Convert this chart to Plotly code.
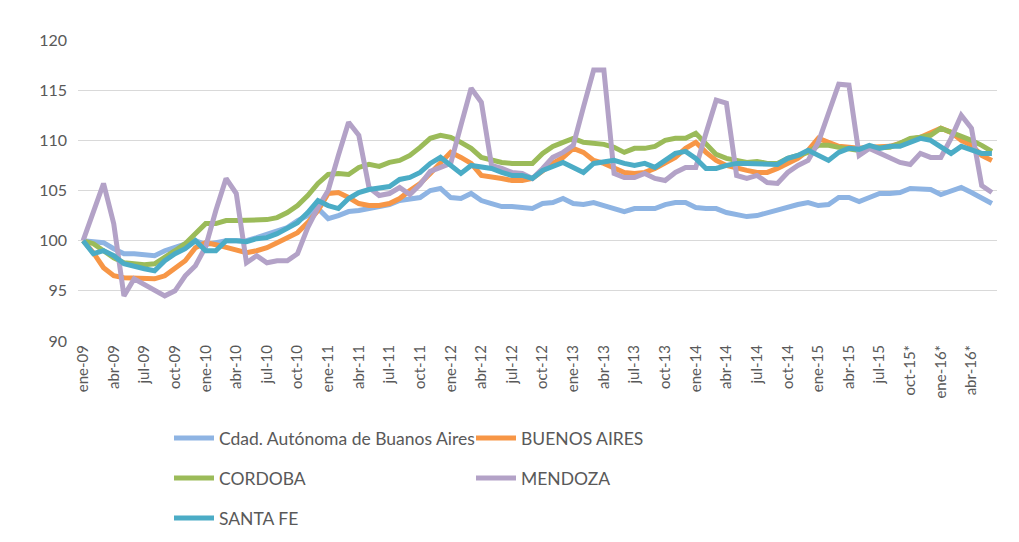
import plotly.graph_objects as go

months = ["ene", "feb", "mar", "abr", "may", "jun", "jul", "ago", "sep", "oct", "nov", "dic"]
years = ["09", "10", "11", "12", "13", "14", "15", "16"]
n_points = 90
starred_from = 81  # oct-15 onwards carry an asterisk

caba = [100.0, 99.9, 99.8, 99.2, 98.7, 98.7, 98.6, 98.5, 99.0, 99.3, 99.7, 100.0,
        99.6, 99.8, 100.0, 100.0, 100.0, 100.3, 100.6, 100.9, 101.3, 102.0, 102.5, 103.2,
        102.2, 102.5, 102.9, 103.0, 103.2, 103.3, 103.6, 104.0, 104.2, 104.3, 105.0, 105.2,
        104.3, 104.2, 104.7, 104.0, 103.7, 103.4, 103.4, 103.3, 103.2, 103.7, 103.8, 104.2,
        103.7, 103.6, 103.8, 103.5, 103.2, 102.9, 103.2, 103.2, 103.2, 103.6, 103.8, 103.8,
        103.3, 103.2, 103.2, 102.8, 102.6, 102.4, 102.5, 102.8, 103.1, 103.3, 103.6, 103.8,
        103.5, 103.6, 104.3, 104.3, 103.9, 104.3, 104.7, 104.7, 104.8, 105.2, 105.2, 105.1,
        104.6, 104.9, 105.3, 104.8, 104.2, 103.7]

buenos_aires = [100.0, 98.8, 97.3, 96.5, 96.3, 96.3, 96.2, 96.2, 96.5, 97.3, 98.0, 99.3,
                99.8, 99.6, 99.3, 99.0, 98.8, 99.0, 99.3, 99.8, 100.3, 100.8, 101.8, 103.0,
                104.7, 104.8, 104.3, 103.7, 103.5, 103.5, 103.7, 104.2, 105.0, 105.7, 106.7, 107.7,
                108.8, 108.3, 107.7, 106.5, 106.4, 106.2, 106.0, 106.0, 106.2, 107.0, 107.7, 108.3,
                109.2, 108.8, 108.0, 107.7, 107.3, 106.8, 106.7, 106.8, 107.2, 107.7, 108.3, 109.2,
                109.8, 108.8, 108.0, 107.5, 107.2, 107.0, 106.8, 106.8, 107.2, 107.7, 108.2, 109.0,
                110.2, 109.8, 109.4, 109.3, 109.2, 109.3, 109.4, 109.4, 109.7, 110.1, 110.3, 110.7,
                111.2, 110.8, 110.0, 109.5, 108.5, 108.0]

cordoba = [100.0, 99.7, 99.0, 98.3, 97.8, 97.7, 97.6, 97.7, 98.3, 99.0, 99.7, 100.7,
           101.7, 101.7, 102.0, 102.0, 102.0, 102.0, 102.1, 102.3, 102.8, 103.5, 104.5, 105.7,
           106.6, 106.7, 106.6, 107.3, 107.6, 107.4, 107.8, 108.0, 108.5, 109.3, 110.2, 110.5,
           110.3, 109.8, 109.2, 108.3, 108.0, 107.8, 107.7, 107.7, 107.7, 108.7, 109.4, 109.8,
           110.2, 109.8, 109.7, 109.6, 109.3, 108.8, 109.2, 109.2, 109.4, 110.0, 110.2, 110.2,
           110.7, 109.6, 108.6, 108.2, 108.0, 107.8, 107.9, 107.7, 107.7, 108.2, 108.5, 108.8,
           109.5, 109.5, 109.3, 109.2, 109.0, 109.2, 109.2, 109.3, 109.7, 110.2, 110.3, 110.5,
           111.2, 110.8, 110.5, 110.0, 109.5, 108.9]

mendoza = [100.0, 102.9, 105.7, 101.7, 94.5, 96.2, 95.6, 95.0, 94.5, 95.0, 96.5, 97.5,
           99.4, 103.0, 106.2, 104.7, 97.8, 98.5, 97.8, 98.0, 98.0, 98.7, 101.3, 103.3,
           105.0, 108.5, 111.8, 110.5, 105.3, 104.5, 104.7, 105.3, 104.6, 105.6, 106.9, 107.3,
           107.7, 111.5, 115.2, 113.8, 107.5, 107.2, 106.8, 106.7, 106.2, 107.2, 108.3, 108.8,
           109.5, 113.3, 117.0, 117.0, 106.7, 106.3, 106.3, 106.7, 106.2, 106.0, 106.8, 107.3,
           107.3, 110.7, 114.0, 113.7, 106.5, 106.2, 106.5, 105.8, 105.7, 106.8, 107.5, 108.0,
           109.8, 112.7, 115.6, 115.5, 108.5, 109.2, 108.7, 108.2, 107.8, 107.6, 108.7, 108.3,
           108.3, 110.2, 112.5, 111.2, 105.5, 104.8]

santa_fe = [100.0, 98.7, 99.0, 98.5, 97.7, 97.4, 97.2, 97.0, 98.0, 98.7, 99.2, 100.0,
            99.0, 99.0, 100.0, 100.0, 99.9, 100.2, 100.3, 100.7, 101.2, 101.8, 102.8, 104.0,
            103.5, 103.2, 104.2, 104.8, 105.1, 105.3, 105.4, 106.1, 106.3, 106.8, 107.7, 108.3,
            107.5, 106.7, 107.5, 107.3, 107.2, 106.8, 106.5, 106.5, 106.2, 107.0, 107.4, 107.8,
            107.3, 106.8, 107.7, 107.8, 108.0, 107.7, 107.5, 107.7, 107.3, 108.0, 108.7, 108.9,
            108.2, 107.2, 107.2, 107.5, 107.7, 107.7, 107.7, 107.6, 107.6, 108.2, 108.5, 109.0,
            108.5, 108.0, 108.8, 109.2, 109.1, 109.5, 109.2, 109.4, 109.4, 109.8, 110.2, 110.0,
            109.3, 108.7, 109.4, 109.0, 108.7, 108.7]

series_names = ["Cdad. Autónoma de Buanos Aires", "BUENOS AIRES", "CORDOBA", "MENDOZA", "SANTA FE"]
series_values = [caba, buenos_aires, cordoba, mendoza, santa_fe]
series_colors = ["#8EB4E3", "#F79646", "#9BBB59", "#B3A2C7", "#4BACC6"]

labels = []
for i in range(n_points):
    lab = f"{months[i % 12]}-{years[i // 12]}"
    if i >= starred_from:
        lab += "*"
    labels.append(lab)

x = list(range(n_points))
tickvals = x[::3]
ticktext = [labels[i] for i in tickvals]

FONT = "Lato, 'Open Sans', sans-serif"
TXT = "#595959"

# figure geometry (page has an 8px body margin)
OFF = 8
W, H = 1019 - OFF, 542 - OFF
L, R, T, B = 78 - OFF, 22, 40 - OFF, 201
pw, ph = W - L - R, H - T - B

def px_x(p):
    return (p - OFF - L) / pw

def px_y(p):
    return (H - B - (p - OFF)) / ph

legend_pos = [(169, 438), (471, 438), (169, 478), (471, 478), (169, 518)]
legend_keys = ["legend", "legend2", "legend3", "legend4", "legend5"]

fig = go.Figure()
for k, (name, vals, col) in enumerate(zip(series_names, series_values, series_colors)):
    fig.add_trace(go.Scatter(
        x=x, y=vals, mode="lines", name=name,
        line=dict(color=col, width=5),
        legend=legend_keys[k],
    ))

layout_legends = {}
for k, key in enumerate(legend_keys):
    lx, ly = legend_pos[k]
    layout_legends[key] = dict(
        x=px_x(lx), y=px_y(ly), xanchor="left", yanchor="middle",
        bgcolor="rgba(0,0,0,0)", font=dict(family=FONT, size=17.5, color=TXT),
        itemwidth=40,
    )

fig.update_layout(
    width=W, height=H,
    margin=dict(l=L, r=R, t=T, b=B, autoexpand=False),
    paper_bgcolor="white", plot_bgcolor="white",
    font=dict(family=FONT, color=TXT),
    showlegend=True,
    **layout_legends,
)

fig.update_xaxes(
    range=[-0.5, n_points - 0.5],
    tickmode="array", tickvals=tickvals, ticktext=ticktext,
    tickangle=-90, tickfont=dict(family=FONT, size=15, color=TXT),
    showgrid=False, zeroline=False, showline=False, ticks="",
)
fig.update_yaxes(
    range=[90, 120], dtick=5, tick0=90,
    tickfont=dict(family=FONT, size=16, color=TXT),
    showgrid=True, gridcolor="#D9D9D9", gridwidth=1,
    zeroline=False, showline=False, ticks="", ticklabelstandoff=10,
)

fig.write_html("out.html")
